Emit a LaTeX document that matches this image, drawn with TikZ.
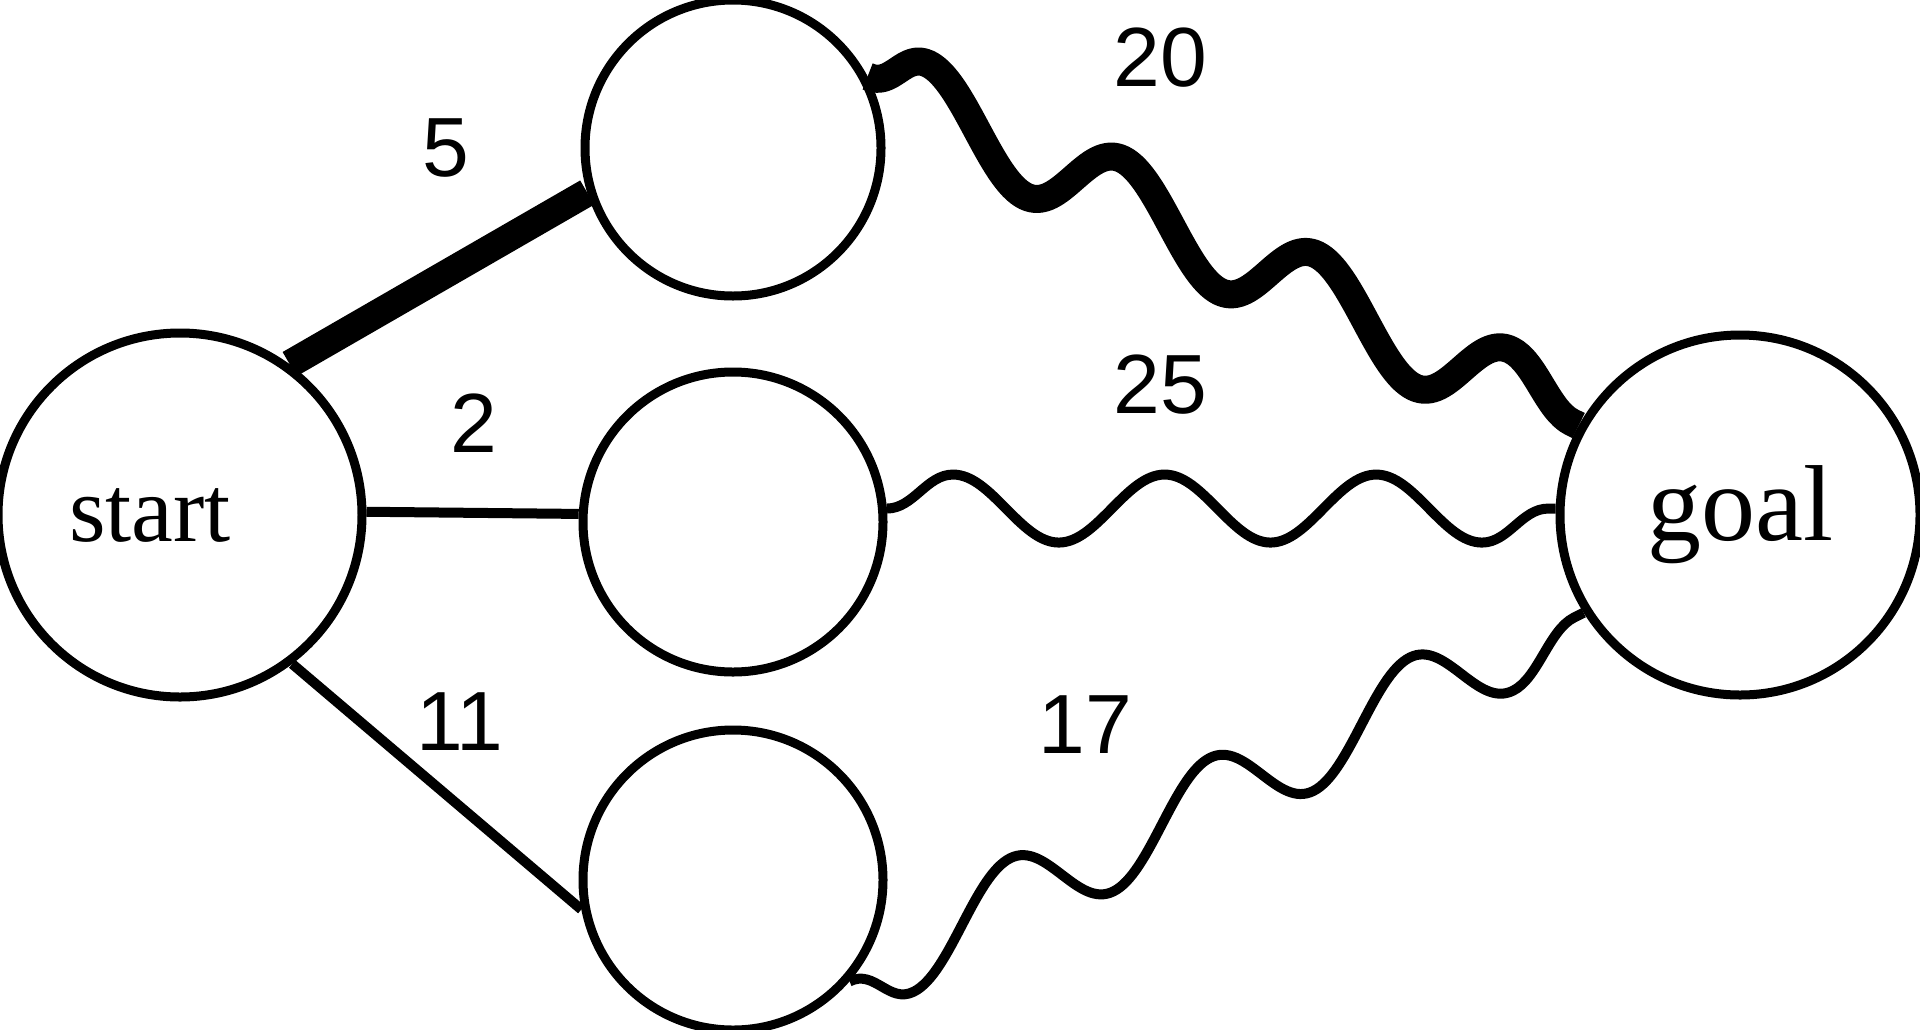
\documentclass[tikz,border=0pt]{standalone}
\usepackage{fontspec}
\setmainfont{Liberation Serif}
\newfontfamily\costfont{Liberation Sans}
\usetikzlibrary{decorations.pathmorphing}

\tikzset{
  state/.style={circle,draw,line width=4.5pt,inner sep=0pt,font=\fontsize{54}{60}\selectfont},
  cost/.style={inner sep=0pt,font=\costfont\fontsize{42}{50}\selectfont},
  wave/.style={decorate,decoration={snake,segment length=#1}},
}

\begin{document}
\begin{tikzpicture}[x=0.5pt,y=0.5pt,yscale=-1,xscale=1]
\useasboundingbox (0,0) rectangle (1920,1029);

%Circles
\draw (180,515) node [state,minimum size=182pt,label={[xshift=-15pt,font=\fontsize{47}{60}\selectfont]center:start}] (start) {};
\draw (733,148) node [state,minimum size=148pt] (top) {};
\draw (733,522) node [state,minimum size=150pt] (mid) {};
\draw (733,880) node [state,minimum size=150pt] (bot) {};
\draw (1740,515) node [state,minimum size=180pt] (goal) {goal};

%Straight Lines
\draw [line width=14pt] (start.54) -- (top.197) ;
\draw [line width=5pt] (start.1) -- (mid.177) ;
\draw [line width=5pt] (start.-53) -- (bot.191) ;

%Wavy Lines
\draw [line width=14pt,line join=round,wave=108.2pt,decoration={amplitude=19pt,transform={xslant=-0.49}}] (top.28) -- (goal.151) ;
\draw [line width=5pt,line join=round,wave=105.8pt,decoration={amplitude=17pt}] (mid.5) -- (goal.178) ;
\draw [line width=5pt,line join=round,wave=111.8pt,decoration={amplitude=19pt,mirror,transform={xslant=0.45}}] (bot.-41) -- (goal.212) ;

% Text Node
\draw (446,148) node [cost] (c5) {5};
% Text Node
\draw (474,423) node [cost] (c2) {2};
% Text Node
\draw (460,722) node [cost] (c11) {11};
% Text Node
\draw (1160,58) node [cost] (c20) {20};
% Text Node
\draw (1160,385) node [cost] (c25) {25};
% Text Node
\draw (1085,725) node [cost] (c17) {17};

\end{tikzpicture}
\end{document}
